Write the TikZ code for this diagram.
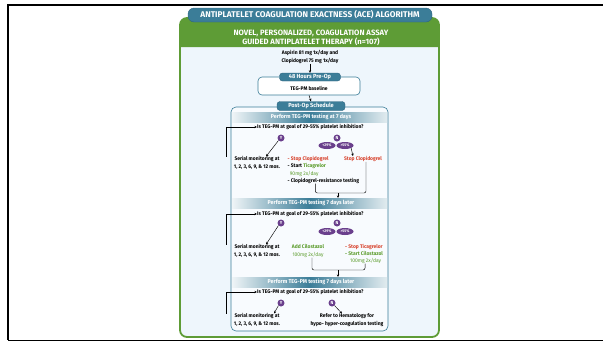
\documentclass[tikz,border=0pt]{standalone}
\usepackage{fontspec}
\setmainfont{Fira Sans}[FakeStretch=0.95]
\newfontfamily\headfont{Fira Sans}
\usetikzlibrary{arrows.meta,shapes.geometric,calc}
\definecolor{tealA}{HTML}{3B7D98}
\definecolor{tealB}{HTML}{2C6480}
\definecolor{greenA}{HTML}{5E9C36}
\definecolor{lightbg}{HTML}{EEF6FC}
\definecolor{boxbg}{HTML}{F8FBFE}
\definecolor{purpleA}{HTML}{6A3F8C}
\definecolor{redA}{HTML}{D7402A}
\definecolor{greenB}{HTML}{5A9B2A}
\begin{document}
\begin{tikzpicture}[x=1pt,y=-1pt,
  txt/.style={font=\fontsize{5.2}{7.4}\selectfont\bfseries, inner sep=0pt, align=center},
  tabbox/.style={fill=tealA, draw=tealB, line width=0.4pt, rounded corners=3pt, text=white,
     font=\fontsize{5.9}{6}\selectfont\bfseries, inner sep=0pt},
  bandtxt/.style={text=white, font=\fontsize{5.6}{6}\selectfont\bfseries, inner sep=0pt},
  yn/.style={circle, fill=purpleA, text=white, minimum size=7pt, inner sep=0pt,
     font=\fontsize{4.4}{5}\selectfont\bfseries},
  pct/.style={ellipse, fill=purpleA, text=white, minimum width=17pt, minimum height=7pt, inner sep=0pt,
     font=\fontsize{3.8}{4}\selectfont\bfseries},
  arr/.style={-{Stealth[length=2.6pt,width=2.4pt]}, line width=0.45pt, black},
  brk/.style={line width=0.45pt, rounded corners=2pt}
]
\useasboundingbox (0,0) rectangle (603,341);
% outer black frame
\draw[line width=1.6pt] (603,5) -- (8,5) -- (8,340);
\draw[line width=1pt] (8,340) -- (603,340);

% green frame
\draw[greenA, line width=1.8pt, fill=lightbg, rounded corners=7pt] (180,18) rectangle (439,337);
\fill[greenA] (180,47) [rounded corners=7pt] -- (180,18) -- (439,18) [sharp corners] -- (439,47) -- cycle;
\node[tabbox, minimum width=244pt, minimum height=14pt, rounded corners=6pt,
      font=\headfont\fontsize{8.3}{9}\selectfont\bfseries] (title) at (310,15)
  {ANTIPLATELET COAGULATION EXACTNESS (ACE) ALGORITHM};
\node[text=white, font=\headfont\fontsize{7.7}{8.8}\selectfont\bfseries, align=center, inner sep=0pt] (sub) at (311,37.5)
  {NOVEL, PERSONALIZED, COAGULATION ASSAY\\GUIDED ANTIPLATELET THERAPY (n=107)};

% start
\node[txt] (asp) at (310,57) {Aspirin 81 mg 1x/day and\\Clopidogrel 75 mg 1x/day};

% pre-op box
\node[draw=tealA, line width=0.6pt, fill=white, rounded corners=4pt, minimum width=102pt, minimum height=18pt] (pre) at (309,86) {};
\node[txt] (base) at (309,88) {TEG-PM baseline};
\node[tabbox, minimum width=61pt, minimum height=8pt] (pretab) at (310,77) {48 Hours Pre-Op};
\draw[arr] (asp.south) -- (pretab.north);

% main box
\node[draw=tealA, line width=0.6pt, fill=boxbg, rounded corners=5pt, minimum width=157pt, minimum height=224pt] (main) at (309.5,219) {};
\node[tabbox, minimum width=68pt, minimum height=9pt] (posttab) at (311,106) {Post-Op Schedule};
\draw[arr] (pre.south) -- (posttab.north);

% bands
\foreach \yy/\nm/\tx in {117/band1/{Perform TEG-PM testing at 7 days},203/band2/{Perform TEG-PM testing 7 days later},282/band3/{Perform TEG-PM testing 7 days later}}{
  \shade[left color=tealA!8, right color=tealA!15, middle color=tealA] (232,\yy-5) rectangle (387,\yy+5);
  \node[bandtxt] (\nm) at (311,\yy) {\tx};
}
\coordinate (band2top) at (338,198);
\coordinate (band3top) at (338,277);

% ---- section 1
\node[txt, anchor=west] (q1) at (257,127) {Is TEG-PM at goal of 29-55\% platelet inhibition?};
\node[yn] (y1) at (281,138) {Y};
\node[pct] (l1) at (327,145.5) {<29\%};
\node[pct] (g1) at (345,145.5) {>55\%};
\node[yn] (n1) at (337,138) {N};
\node[txt] (ser1) at (257,163) {Serial monitoring at\\1, 2, 3, 6, 9, \& 12 mos.};
\node[txt, anchor=north west, align=left, font=\fontsize{5.2}{7.3}\selectfont\bfseries] (plan1) at (287.5,156)
  {\textcolor{redA}{- Stop Clopidogrel}\\- Start \textcolor{greenB}{Ticagrelor}\\\hspace*{2.2pt}\textcolor{greenB}{\mdseries 90mg 2x/day}\\- Clopidogrel-resistance testing};
\node[txt, text=redA] (stop1) at (363,159) {Stop Clopidogrel};
\draw[arr] ([xshift=-8pt]ser1.north west) |- (q1.west);
\draw[arr] (y1.south west) -- ([xshift=9pt]ser1.north);
\draw[arr] (g1.south east) -- ([xshift=-10pt]stop1.north);
\coordinate (j1) at (338,193);
\draw[brk] ([xshift=-8pt]plan1.south) |- (j1) -| ([xshift=3pt]stop1.south);
\draw[arr] (j1) -- (band2top);

% ---- section 2
\node[txt, anchor=west] (q2) at (257,214) {Is TEG-PM at goal of 29-55\% platelet inhibition?};
\node[yn] (y2) at (281,223) {Y};
\node[pct] (l2) at (327,231.5) {<29\%};
\node[pct] (g2) at (345,231.5) {>55\%};
\node[yn] (n2) at (337,223) {N};
\node[txt] (ser2) at (257,251) {Serial monitoring at\\1, 2, 3, 6, 9, \& 12 mos.};
\node[txt, text=greenB] (add2) at (308,251) {Add Cilostazol\\{\mdseries 100mg 2x/day}};
\node[txt, anchor=north west, align=left, font=\fontsize{5.2}{7}\selectfont\bfseries] (plan2) at (345,244)
  {\textcolor{redA}{- Stop Ticagrelor}\\\textcolor{greenB}{- Start Cilostazol}\\\hspace*{5pt}\textcolor{greenB}{\mdseries 100mg 2x/day}};
\draw[arr] ([xshift=-8pt]ser2.north west) |- (q2.west);
\draw[arr] (y2.south west) -- ([xshift=9pt]ser2.north);
\coordinate (j2) at (338,270);
\draw[brk] ([xshift=4pt]add2.south) |- (j2) -| ([xshift=1pt]plan2.south);
\draw[arr] (j2) -- (band3top);

% ---- section 3
\node[txt, anchor=west] (q3) at (257,292) {Is TEG-PM at goal of 29-55\% platelet inhibition?};
\node[yn] (y3) at (281,303) {Y};
\node[yn] (n3) at (332,303) {N};
\node[txt] (ser3) at (257,320) {Serial monitoring at\\1, 2, 3, 6, 9, \& 12 mos.};
\node[txt] (ref3) at (347,320) {Refer to Hematology for\\hypo- hyper-coagulation testing};
\draw[arr] ([xshift=-8pt]ser3.north west) |- (q3.west);
\draw[arr] (y3.south west) -- ([xshift=17pt]ser3.north);
\draw[arr] (n3.south east) -- ([xshift=-5pt]ref3.north);
\end{tikzpicture}
\end{document}
